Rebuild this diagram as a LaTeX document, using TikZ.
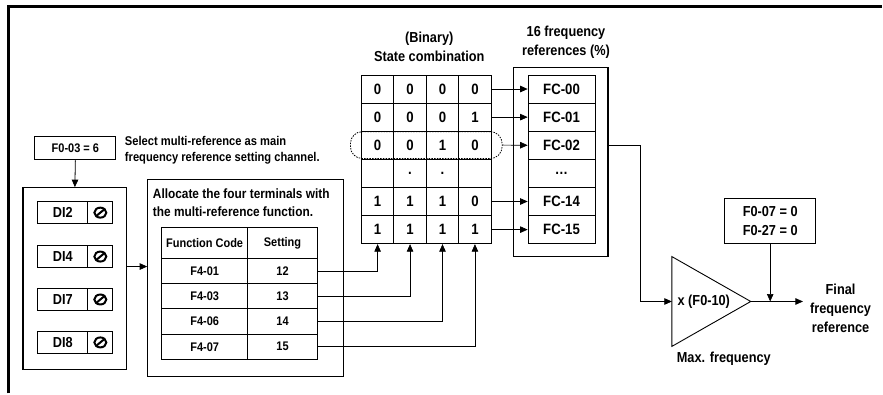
\documentclass[tikz,border=0pt]{standalone}
\usepackage{fontspec}
\setmainfont{Liberation Sans}[FakeStretch=0.88]
\usetikzlibrary{arrows.meta}

\begin{document}
\begin{tikzpicture}[x=1pt, y=-1pt, >={Triangle[length=7.5pt,width=6.5pt]},
  cell/.style={draw, line width=0.9pt, minimum width=32.5pt, minimum height=28.17pt,
    inner sep=0pt, font=\bfseries\fontsize{15}{18}\selectfont},
  fcbox/.style={cell, minimum width=67pt},
  tcell/.style={draw, line width=0.9pt, minimum height=25.25pt, inner sep=0pt,
    font=\bfseries\fontsize{12.5}{15}\selectfont},
  dilbl/.style={draw, line width=0.9pt, minimum width=50pt, minimum height=22pt,
    inner sep=0pt, font=\bfseries\fontsize{14.5}{17}\selectfont},
  disym/.style={dilbl, minimum width=25pt},
  frame/.style={draw, line width=1.1pt, inner sep=0pt},
  note/.style={inner sep=0pt, font=\bfseries\fontsize{#1}{1.3\dimexpr#1pt\relax}\selectfont},
  arr/.style={->, line width=0.7pt}]
  % Page and cut frame
  \fill[white] (0,0) rectangle (883,394);
  \draw[line width=3pt] (9,394) -- (9,7) -- (883,7);
  % Main channel setting
  \node[frame, minimum width=81pt, minimum height=23pt, font=\bfseries\fontsize{12.5}{15}\selectfont]
    (f003) at (75.5,148.5) {F0-03 = 6};
  \node[note=12.7, anchor=north west, align=left] (seltxt) at (125,136)
    {Select multi-reference as main\\frequency reference setting channel.};
  % DI terminals
  \node[frame, minimum width=104pt, minimum height=182pt] (dibox) at (75,279) {};
  \foreach \t/\yy [count=\i] in {DI2/213, DI4/257, DI7/300, DI8/343} {
    \node[dilbl] (di-\i) at (63,\yy) {\t};
    \node[disym] (sym-\i) at (100.5,\yy) {};
    \draw[line width=2pt] (sym-\i.center) circle[x radius=6pt, y radius=5pt];
    \draw[line width=2pt] ([shift={(-4.2pt,-3.5pt)}]sym-\i.center) -- ([shift={(4.2pt,3.5pt)}]sym-\i.center);
  }
  \draw[->, line width=0.8pt] (f003.south) -- (dibox.north);
  % Allocation table
  \node[frame, minimum width=196pt, minimum height=197pt] (alloc) at (246,278.5) {};
  \node[note=13.5, anchor=north west, align=left] (alloctxt) at (153,189)
    {Allocate the four terminals with\\the multi-reference function.};
  \draw[->, line width=0.8pt] ([yshift=12pt]dibox.east) -- ([yshift=12pt]dibox.east -| alloc.west);
  % Binary state grid and the 16 references
  \node[note=14.5, align=center] (bintitle) at (430,47) {(Binary)\\State combination};
  \node[note=14.5, align=center] (fctitle) at (567,42.5) {16 frequency\\references (\%)};
  \node[frame, minimum width=95pt, minimum height=189pt] (fcall) at (561.5,162.5) {};
  \foreach \bits/\fc [count=\i] in {{0,0,0,0}/FC-00, {0,0,0,1}/FC-01, {0,0,1,0}/FC-02,
      {{},.,.,{}}/\ldots, {1,1,1,0}/FC-14, {1,1,1,1}/FC-15} {
    \foreach \v [count=\j] in \bits {
      \node[cell] (b-\i-\j) at (345.75+32.5*\j, 61+28.17*\i) {\v};
    }
    \node[fcbox] (fc-\i) at (562.5, 61+28.17*\i) {\fc};
  }
  \node[draw, line width=0.8pt, dash pattern=on 1.5pt off 1.2pt, rounded corners=12pt,
    minimum width=152pt, minimum height=27pt] (sel) at (427,145.34) {};
  \foreach \i in {1,2,5,6} {
    \draw[arr] (b-\i-4.east) -- (fc-\i.west);
  }
  \draw[arr] (sel.east) -- (fc-3.west);
  % Function codes
  \node[tcell, minimum width=86pt, minimum height=31pt] (hd-1) at (205,243.5) {Function Code};
  \node[tcell, minimum width=70pt, minimum height=31pt] (hd-2) at (283,243.5) {Setting};
  \foreach \code/\val [count=\i] in {F4-01/12, F4-03/13, F4-06/14, F4-07/15} {
    \node[tcell, minimum width=86pt] (fn-\i) at (205, 246.3+25.25*\i) {\code};
    \node[tcell, minimum width=70pt] (st-\i) at (283, 246.3+25.25*\i) {\val};
    \draw[arr] (st-\i.east) -| (b-6-\i.south);
  }
  % Max. frequency gain
  \coordinate (ampin) at (673,302);
  \coordinate (ampout) at (752,302);
  \draw[line width=0.9pt] (673,257) -- (ampout) -- (673,347) -- cycle;
  \node[note=14.5] (gain) at (705,302) {x (F0-10)};
  \node[note=14.5] (maxf) at (725,359) {Max. frequency};
  \draw[arr] (fcall.east |- fc-3) -- ++(32,0) |- (ampin);
  % Final reference
  \node[frame, minimum width=91pt, minimum height=45pt, align=center,
    font=\bfseries\fontsize{14.5}{19}\selectfont] (f007) at (771.5,221.5) {F0-07 = 0\\F0-27 = 0};
  \node[note=14.5, align=center, inner sep=3pt] (final) at (842,309) {Final\\frequency\\reference};
  \draw[arr, shorten >=4pt] (ampout) -- (final.west |- ampout);
  \draw[arr] (f007.south) -- (f007.south |- ampout);
\end{tikzpicture}
\end{document}
